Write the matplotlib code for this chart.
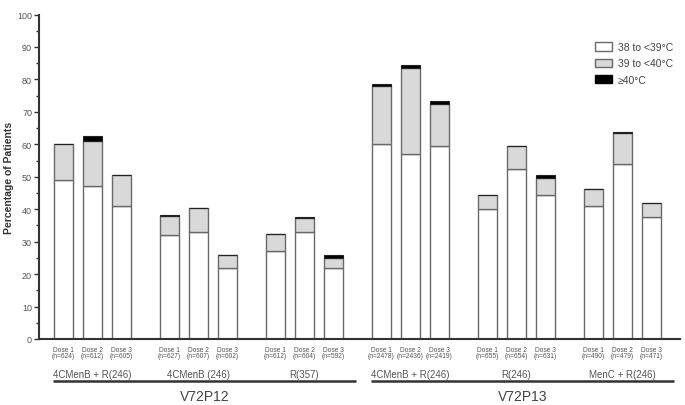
import matplotlib
matplotlib.use("Agg")
import matplotlib.pyplot as plt
from matplotlib.patches import Patch
from matplotlib.transforms import blended_transform_factory
from matplotlib.ticker import MultipleLocator

plt.rcParams['font.family'] = ['Liberation Sans', 'DejaVu Sans']

# ---- data ----
groups = ["4CMenB + R(246)", "4CMenB (246)", "R(357)",
          "4CMenB + R(246)", "R(246)", "MenC + R(246)"]
studies = ["V72P12", "V72P13"]
doses = ["Dose 1", "Dose 2", "Dose 3"]
n_values = [[624, 612, 605], [627, 607, 602], [612, 604, 592],
            [2478, 2436, 2419], [655, 654, 631], [490, 479, 471]]
temp_38_39 = [[49, 47, 41], [32, 33, 22], [27, 33, 22],
              [60, 57, 59.5], [40, 52.5, 44.5], [41, 54, 37.5]]
temp_39_40 = [[11, 14, 9.5], [6, 7.3, 4], [5.3, 4.3, 3],
              [18, 26.5, 13], [4.5, 7, 5], [5.3, 9.5, 4.5]]
temp_ge40 = [[0, 1.5, 0], [0.3, 0, 0], [0.2, 0.2, 1],
             [0.5, 0.8, 0.8], [0, 0, 1], [0, 0.3, 0]]
series_labels = ["38 to <39°C", "39 to <40°C", "≥40°C"]

# ---- layout ----
W, H = 685, 406
fig = plt.figure(figsize=(W / 100, H / 100), dpi=100)
ax = fig.add_axes([39 / W, (H - 340) / H, (680 - 39) / W, (340 - 15.5) / H])

group_step = 3.655
edge = '#6a6a6a'
fills = ['white', '#d9d9d9', 'black']
bw = 0.66

xs_all = []
for g in range(len(groups)):
    xs = [g * group_step + i for i in range(3)]
    xs_all.append(xs)
    b1 = temp_38_39[g]
    b2 = temp_39_40[g]
    b3 = temp_ge40[g]
    ax.bar(xs, b1, width=bw, color=fills[0], edgecolor=edge, linewidth=1.0)
    ax.bar(xs, b2, bottom=b1, width=bw, color=fills[1], edgecolor=edge, linewidth=1.0)
    bot3 = [a + b for a, b in zip(b1, b2)]
    ax.bar(xs, b3, bottom=bot3, width=bw, color=fills[2], edgecolor='#222222', linewidth=0.8)

ax.set_ylim(0, 100)
ax.set_xlim(-0.83, 21.27)
ax.yaxis.set_major_locator(MultipleLocator(10))
ax.yaxis.set_minor_locator(MultipleLocator(5))
ax.tick_params(axis='y', which='major', length=3.5, width=1, colors='#333333',
               labelsize=6.5, pad=1.5, labelcolor='#555555')
ax.tick_params(axis='y', which='minor', length=2, width=1, colors='#333333')
ax.set_xticks([])
for s in ['top', 'right']:
    ax.spines[s].set_visible(False)
for s in ['left', 'bottom']:
    ax.spines[s].set_color('#333333')
    ax.spines[s].set_linewidth(1.5)

ax.set_ylabel("Percentage of Patients", fontsize=7.5, fontweight='bold', color='#333333')
ax.yaxis.set_label_coords(-0.039, 0.5)

trans = blended_transform_factory(ax.transData, fig.transFigure)
def fy(px):
    return 1 - px / H

for g in range(len(groups)):
    for i in range(3):
        ax.text(xs_all[g][i], fy(353.5), f"{doses[i]}\n(n={n_values[g][i]})",
                transform=trans, ha='center', va='center', fontsize=4.8,
                color='#555555', linespacing=0.85)
    ax.text(xs_all[g][1], fy(375), groups[g], transform=trans, ha='center',
            va='center', fontsize=7, color='#555555')

# study lines and labels
for k, st in enumerate(studies):
    gs = xs_all[3 * k:3 * k + 3]
    x0 = gs[0][0] - 0.35
    x1 = gs[-1][-1] + 0.8
    ax.plot([x0, x1], [fy(382), fy(382)], transform=trans, color='#333333',
            lw=1.8, clip_on=False, solid_capstyle='butt')
    ax.text((x0 + x1) / 2, fy(397), st, transform=trans, ha='center',
            va='center', fontsize=10, color='#444444')

handles = [Patch(facecolor=fills[0], edgecolor=edge, linewidth=1.0),
           Patch(facecolor=fills[1], edgecolor=edge, linewidth=1.0),
           Patch(facecolor=fills[2], edgecolor='black', linewidth=1.0)]
leg = ax.legend(handles, series_labels, loc='upper left',
                bbox_to_anchor=(590 / W, 1 - 38 / H), bbox_transform=fig.transFigure,
                frameon=False, fontsize=7.5, handlelength=1.6, handleheight=0.9,
                labelspacing=0.6, handletextpad=0.6, borderpad=0)
for t in leg.get_texts():
    t.set_color('#444444')

fig.savefig("out.png", dpi=100)
